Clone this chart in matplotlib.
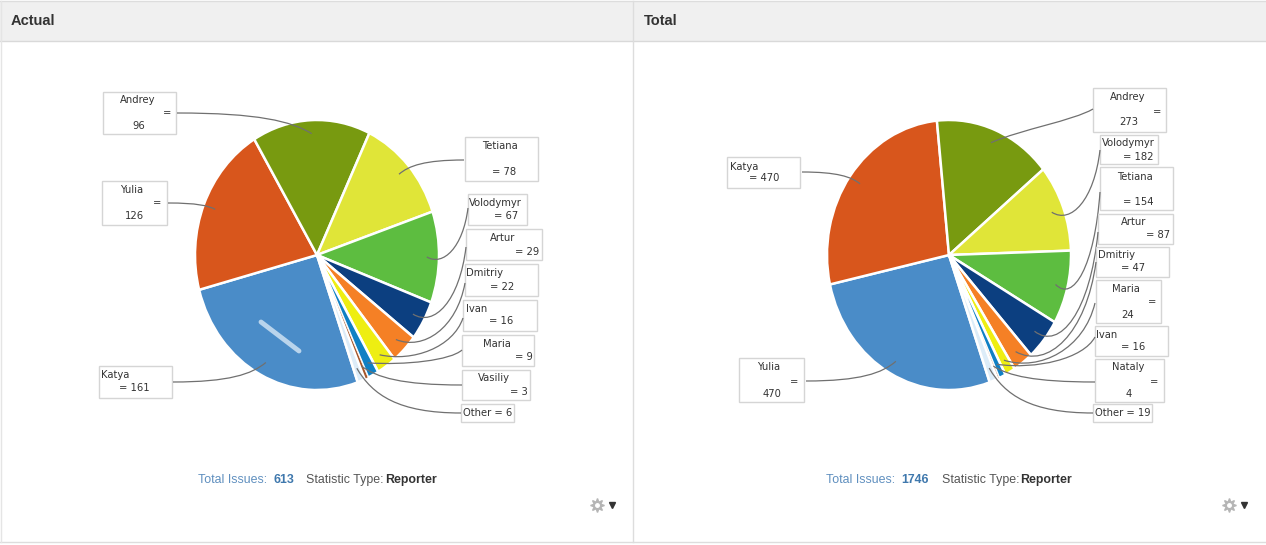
import matplotlib
matplotlib.use('Agg')
import matplotlib.pyplot as plt
from matplotlib.patches import Rectangle, PathPatch
from matplotlib.path import Path
import numpy as np

W, H = 1266, 545

# data, in pie order (clockwise)
names_actual = ['Katya', 'Yulia', 'Andrey', 'Tetiana', 'Volodymyr', 'Artur',
                'Dmitriy', 'Ivan', 'Maria', 'Vasiliy', 'Other']
values_actual = [161, 126, 96, 78, 67, 29, 22, 16, 9, 3, 6]

names_total = ['Yulia', 'Katya', 'Andrey', 'Volodymyr', 'Tetiana', 'Artur',
               'Dmitriy', 'Maria', 'Ivan', 'Nataly', 'Other']
values_total = [470, 470, 273, 182, 154, 87, 47, 24, 16, 4, 19]

colors = ['#4a8cc8', '#d8561c', '#789a10', '#e0e538', '#5dbd40', '#0c3f80',
          '#f58025', '#eeee12', '#0f80c4', '#a5562a', '#dcecf8']

# label layout in pixels:
# box (x0, y0, x1, y1), name (x, y, align), "= n" (x, y) or None when one line,
# split "=" (x, y) and value (x, y) when wrapped, leader start, leader kind
layout_actual = [
    ((99, 366, 172, 398), (101, 375, 'left'), (134, 388), None, None, (173, 382), 'h'),
    ((102, 181, 167, 225), (132, 190, 'center'), None, (157, 203), (134, 216), (168, 203), 'h'),
    ((103, 92, 176, 134), (138, 100, 'center'), None, (167, 113), (139, 126), (177, 113), 'h'),
    ((465, 137, 538, 181), (500, 146, 'center'), (504, 172), None, None, (464, 160), 'h'),
    ((468, 194, 527, 225), (495, 203, 'center'), (506, 216), None, None, (468, 208), 'v'),
    ((466, 229, 542, 260), (503, 238, 'center'), (527, 252), None, None, (466, 247), 'v'),
    ((465, 264, 538, 296), (466, 273, 'left'), (502, 287), None, None, (465, 283), 'v'),
    ((463, 300, 537, 331), (466, 309, 'left'), (501, 321), None, None, (463, 318), 'v'),
    ((462, 335, 534, 366), (497, 344, 'center'), (524, 357), None, None, (462, 350), 'v'),
    ((462, 370, 530, 400), (494, 378, 'center'), (519, 392), None, None, (462, 385), 'h'),
    ((461, 404, 514, 422), None, (488, 413), None, None, (461, 413), 'h'),
]
layout_total = [
    ((739, 358, 804, 402), (769, 367, 'center'), None, (794, 382), (772, 394), (806, 381), 'h'),
    ((727, 157, 800, 188), (730, 167, 'left'), (764, 178), None, None, (802, 172), 'h'),
    ((1093, 88, 1166, 132), (1128, 97, 'center'), None, (1157, 112), (1129, 122), (1093, 109), 's'),
    ((1100, 135, 1158, 164), (1128, 143, 'center'), (1138, 157), None, None, (1100, 150), 'v'),
    ((1100, 167, 1173, 210), (1135, 177, 'center'), (1138, 202), None, None, (1100, 192), 'v'),
    ((1098, 214, 1173, 244), (1134, 222, 'center'), (1158, 235), None, None, (1098, 232), 'v'),
    ((1096, 247, 1169, 277), (1098, 255, 'left'), (1133, 268), None, None, (1096, 262), 'v'),
    ((1096, 280, 1161, 323), (1126, 289, 'center'), None, (1152, 302), (1128, 315), (1095, 303), 'v'),
    ((1095, 326, 1168, 356), (1096, 335, 'left'), (1133, 347), None, None, (1095, 337), 'v'),
    ((1095, 359, 1164, 402), (1128, 367, 'center'), None, (1154, 382), (1129, 394), (1095, 382), 'h'),
    ((1093, 404, 1152, 422), None, (1123, 413), None, None, (1093, 413), 'h'),
]

RX, RY, CY = 122, 135, 255
START = -70.5
LABEL_FONT = dict(family='DejaVu Sans', fontsize=7.2, color='#333333',
                  va='center')
UI_FONT = 'Liberation Sans'


def draw_pie(fig, over, values, names, layout, cx):
    # pie stretched a bit taller than wide, like the screenshot
    m = 1.2
    ax = fig.add_axes([(cx - RX * m) / W, 1 - (CY + RY * m) / H,
                       2 * RX * m / W, 2 * RY * m / H])
    wedges, _ = ax.pie(values, colors=colors, startangle=START,
                       counterclock=False,
                       wedgeprops=dict(edgecolor='white', linewidth=1.8))
    wedges[9].set_linewidth(0.5)
    ax.set_aspect('auto')
    ax.set_xlim(-m, m)
    ax.set_ylim(-m, m)

    for w, name, val, lay in zip(wedges, names, values, layout):
        box, name_pos, eq_pos, eq_alone, val_pos, start, kind = lay
        over.add_patch(Rectangle((box[0], box[1]), box[2] - box[0],
                                 box[3] - box[1], facecolor='white',
                                 edgecolor='#d5d5d5', linewidth=1))
        if name_pos is None:
            over.text(eq_pos[0], eq_pos[1], '%s = %d' % (name, val),
                      ha='center', **LABEL_FONT)
        else:
            over.text(name_pos[0], name_pos[1], name, ha=name_pos[2],
                      **LABEL_FONT)
            if eq_pos is not None:
                over.text(eq_pos[0], eq_pos[1], '= %d' % val, ha='center',
                          **LABEL_FONT)
            else:
                over.text(eq_alone[0], eq_alone[1], '=', ha='center',
                          **LABEL_FONT)
                over.text(val_pos[0], val_pos[1], str(val), ha='center',
                          **LABEL_FONT)

        mid = np.deg2rad((w.theta1 + w.theta2) / 2)
        ex = cx + 0.9 * RX * np.cos(mid)
        ey = CY - 0.9 * RY * np.sin(mid)
        dx, dy = ex - start[0], ey - start[1]
        if kind == 'h':
            c1 = (start[0] + 0.6 * dx, start[1])
            c2 = (ex - 0.15 * dx, ey - 0.6 * dy)
        elif kind == 's':
            c1 = (start[0] + 0.2 * dx, start[1] + 0.35 * dy)
            c2 = (start[0] + 0.7 * dx, start[1] + 0.6 * dy)
        else:
            c1 = (start[0] + 0.12 * dx, start[1] + 0.8 * dy)
            c2 = (start[0] + 0.6 * dx, ey + 0.2 * abs(dy))
        over.add_patch(PathPatch(Path([start, c1, c2, (ex, ey)],
                                      [Path.MOVETO, Path.CURVE4,
                                       Path.CURVE4, Path.CURVE4]),
                                 facecolor='none', edgecolor='#707070',
                                 linewidth=0.9))
    return ax


def draw_footer(over, total, xs):
    y = 480
    kw = dict(family=UI_FONT, fontsize=8.9, va='center')
    over.text(xs[0], y, 'Total Issues:', color='#5f8fbf', **kw)
    over.text(xs[1], y, str(total), color='#3f78ad', fontweight='bold', **kw)
    over.text(xs[2], y, 'Statistic Type:', color='#555555', **kw)
    over.text(xs[3], y, 'Reporter', color='#333333', fontweight='bold', **kw)


def draw_gear(over, x):
    over.plot([x], [505], marker=(8, 1, 0), markersize=10, color='#b5b5b5')
    over.plot([x], [505], marker='o', markersize=2.5, color='white')
    over.plot([x + 15], [505], marker='v', markersize=4.5, color='#333333')


def main():
    fig = plt.figure(figsize=(W / 100, H / 100), dpi=100)
    over = fig.add_axes([0, 0, 1, 1], zorder=5)
    over.set_xlim(0, W)
    over.set_ylim(H, 0)
    over.axis('off')

    # page frame and headers
    over.add_patch(Rectangle((0, 1), W, 40, facecolor='#f0f0f0',
                             edgecolor='none'))
    over.plot([0, W], [1, 1], color='#dddddd', lw=1)
    over.plot([0, W], [41, 41], color='#d9d9d9', lw=1)
    over.plot([0, W], [542, 542], color='#dddddd', lw=1)
    over.plot([632.5, 632.5], [1, 542], color='#dddddd', lw=1)
    over.plot([0.5, 0.5], [1, 542], color='#e5e5e5', lw=1)
    over.text(11, 21, 'Actual', family=UI_FONT, fontsize=10.5,
              fontweight='bold', color='#333333', va='center')
    over.text(644, 21, 'Total', family=UI_FONT, fontsize=10.5,
              fontweight='bold', color='#333333', va='center')

    draw_pie(fig, over, values_actual, names_actual, layout_actual, 317)
    draw_pie(fig, over, values_total, names_total, layout_total, 949)

    # light streak on the Katya slice of the left pie
    over.plot([261, 299], [322, 351], color='#b9d4ec', lw=3.5,
              solid_capstyle='round')

    draw_footer(over, sum(values_actual), (198, 273, 306, 385))
    draw_footer(over, sum(values_total), (826, 901, 942, 1020))
    draw_gear(over, 597)
    draw_gear(over, 1229)

    fig.savefig('out.png', dpi=100, facecolor='white')


if __name__ == '__main__':
    main()
